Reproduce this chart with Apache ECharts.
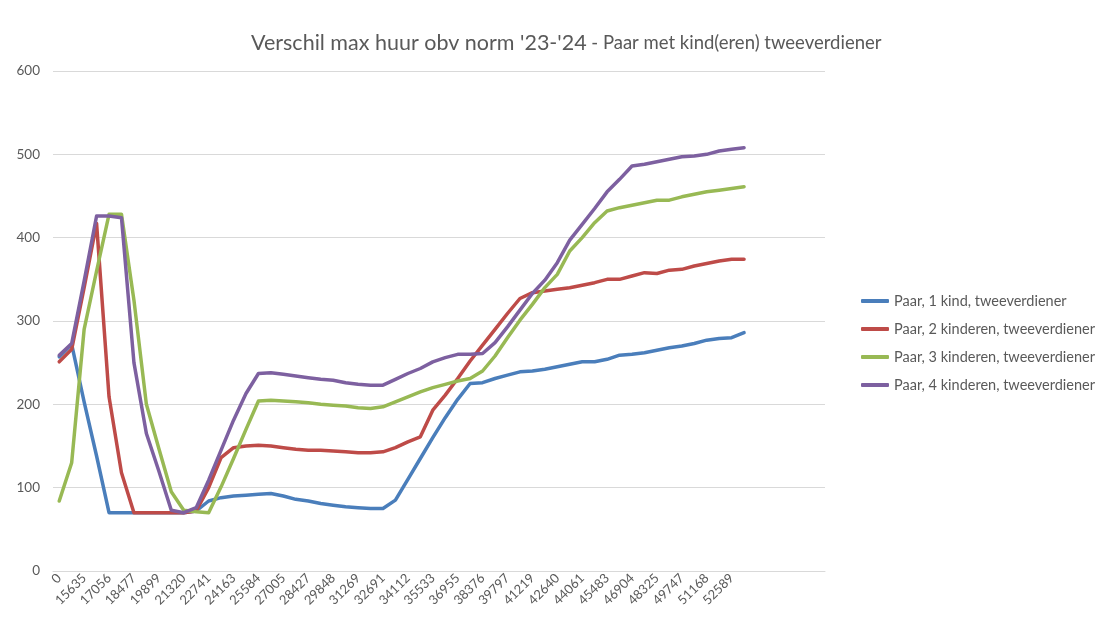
<!DOCTYPE html>
<html>
<head>
<meta charset="utf-8">
<title>Verschil max huur</title>
<script src="https://cdn.jsdelivr.net/npm/echarts@6.0.0/dist/echarts.min.js"></script>
<style>
	html, body { margin: 0; padding: 0; background: #fff; }
	#chart { width: 1097px; height: 626px; }
</style>
</head>
<body>
<div id="chart"></div>
<script>
// inkomens (x-as), alleen de even posities krijgen een label
var categories = ['0', '14925', '15635', '16346', '17056', '17767', '18477', '19188', '19899', '20610',
	'21320', '22031', '22741', '23452', '24163', '24874', '25584', '26295', '27005', '27716',
	'28427', '29138', '29848', '30559', '31269', '31980', '32691', '33402', '34112', '34823',
	'35533', '36244', '36955', '37666', '38376', '39087', '39797', '40508', '41219', '41930',
	'42640', '43351', '44061', '44772', '45483', '46194', '46904', '47615', '48325', '49036',
	'49747', '50458', '51168', '51879', '52589', '53300', '', '', '', '', '', ''];

var seriesNames = ['Paar, 1 kind, tweeverdiener', 'Paar, 2 kinderen, tweeverdiener',
	'Paar, 3 kinderen, tweeverdiener', 'Paar, 4 kinderen, tweeverdiener'];

var kind1 = [257, 272, 203, 138, 70, 70, 70, 70, 70, 70, 70, 72, 84, 88, 90, 91, 92, 93, 90, 86,
	84, 81, 79, 77, 76, 75, 75, 85, 110, 135, 160, 184, 206, 225, 226, 231, 235, 239, 240, 242,
	245, 248, 251, 251, 254, 259, 260, 262, 265, 268, 270, 273, 277, 279, 280, 286];
var kind2 = [251, 266, 340, 417, 209, 118, 70, 70, 70, 70, 70, 72, 100, 136, 148, 150, 151, 150, 148, 146,
	145, 145, 144, 143, 142, 142, 143, 148, 155, 161, 193, 211, 231, 252, 271, 290, 309, 327, 334, 336,
	338, 340, 343, 346, 350, 350, 354, 358, 357, 361, 362, 366, 369, 372, 374, 374];
var kind3 = [84, 130, 290, 360, 428, 428, 325, 200, 147, 95, 73, 71, 70, 101, 135, 170, 204, 205, 204, 203,
	202, 200, 199, 198, 196, 195, 197, 203, 209, 215, 220, 224, 228, 231, 240, 258, 280, 301, 320, 340,
	356, 384, 400, 418, 432, 436, 439, 442, 445, 445, 449, 452, 455, 457, 459, 461];
var kind4 = [259, 273, 348, 426, 426, 424, 250, 165, 120, 73, 70, 76, 109, 145, 181, 213, 237, 238, 236, 234,
	232, 230, 229, 226, 224, 223, 223, 230, 237, 243, 251, 256, 260, 260, 261, 274, 293, 313, 333, 349,
	370, 397, 416, 435, 455, 470, 486, 488, 491, 494, 497, 498, 500, 504, 506, 508];

var colors = ['#4A7EBB', '#BE4B48', '#98B954', '#7D60A0'];

function lijn(name, data) {
	return {
		name : name,
		type : 'line',
		data : data,
		showSymbol : false,
		symbol : 'none',
		lineStyle : { width : 3.5, cap : 'round', join : 'round' },
		emphasis : { disabled : true }
	};
}

var myChart = echarts.init(document.getElementById('chart'));
var option = {
	backgroundColor : '#fff',
	color : colors,
	textStyle : { fontFamily : 'Lato' },
	title : {
		text : "{a|Verschil max huur obv norm '23-'24} {b|- Paar met kind(eren) tweeverdiener}",
		left : 246,
		top : 27,
		textStyle : {
			fontWeight : 'normal',
			rich : {
				a : { fontSize : 21.5, color : '#595959', fontFamily : 'Lato', fontWeight : 'normal' },
				b : { fontSize : 18.5, color : '#595959', fontFamily : 'Lato', fontWeight : 'normal' }
			}
		}
	},
	legend : {
		orient : 'vertical',
		left : 856,
		top : 288,
		itemWidth : 28,
		itemHeight : 4,
		itemGap : 12,
		icon : 'roundRect',
		data : seriesNames,
		textStyle : { fontSize : 14.5, color : '#595959', lineHeight : 16 }
	},
	grid : { left : 53, right : 272, top : 71, bottom : 55 },
	xAxis : {
		type : 'category',
		boundaryGap : true,
		data : categories,
		axisLine : { lineStyle : { color : '#D9D9D9', width : 1 } },
		axisTick : { show : false },
		axisLabel : { rotate : 45, interval : 1, fontSize : 13, color : '#595959', margin : 5 },
		splitLine : { show : false }
	},
	yAxis : {
		type : 'value',
		min : 0,
		max : 600,
		interval : 100,
		axisLine : { show : false },
		axisTick : { show : false },
		axisLabel : { fontSize : 13.5, color : '#595959', margin : 13 },
		splitLine : { lineStyle : { color : '#D9D9D9', width : 1 } }
	},
	series : [
		lijn(seriesNames[0], kind1),
		lijn(seriesNames[1], kind2),
		lijn(seriesNames[2], kind3),
		lijn(seriesNames[3], kind4)
	]
};
myChart.setOption(option, true);
</script>
</body>
</html>
